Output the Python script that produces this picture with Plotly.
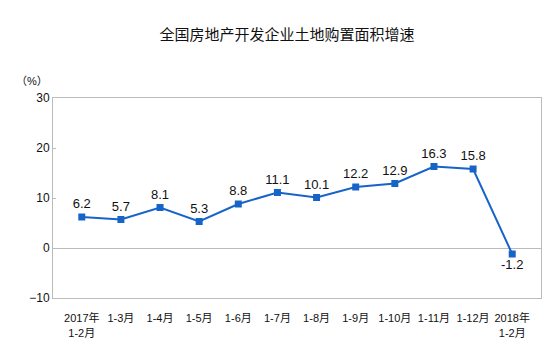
import plotly.graph_objects as go

categories = ["2017年<br>1-2月", "1-3月", "1-4月", "1-5月", "1-6月", "1-7月",
              "1-8月", "1-9月", "1-10月", "1-11月", "1-12月", "2018年<br>1-2月"]
values = [6.2, 5.7, 8.1, 5.3, 8.8, 11.1, 10.1, 12.2, 12.9, 16.3, 15.8, -1.2]
label_text = ["6.2", "5.7", "8.1", "5.3", "8.8", "11.1", "10.1", "12.2", "12.9", "16.3", "15.8", "-1.2"]
label_pos = ["top center"] * 11 + ["bottom center"]
y_ticks = [-10, 0, 10, 20, 30]

FONT = "Liberation Sans, Noto Sans CJK SC, sans-serif"
BLUE = "#1764C8"

fig = go.Figure()
fig.add_trace(go.Scatter(
    x=categories, y=values, mode="lines+markers+text",
    line=dict(color=BLUE, width=2),
    marker=dict(symbol="square", size=7, color=BLUE),
    text=label_text, textposition=label_pos,
    textfont=dict(family=FONT, size=13, color="#111111"),
    cliponaxis=False, showlegend=False,
))

fig.update_layout(
    width=550, height=345,
    margin=dict(l=53, r=9, t=98, b=47),
    paper_bgcolor="white", plot_bgcolor="white",
    font=dict(family=FONT, size=11, color="#111111"),
    title=dict(text="全国房地产开发企业土地购置面积增速", x=0.522, xanchor="center",
               y=0.9, yanchor="middle",
               font=dict(family="Noto Sans CJK SC, sans-serif", size=15, color="#111111")),
    xaxis=dict(type="category", showline=True, linecolor="#BBBBBB", linewidth=1,
               mirror=True, showgrid=False, ticks="", tickangle=0, ticklabelstandoff=10,
               automargin=False,
               tickfont=dict(family=FONT + ", Noto Sans CJK SC", size=11)),
    yaxis=dict(range=[-10, 30], tickvals=y_ticks, showline=True, linecolor="#BBBBBB",
               linewidth=1, mirror=True, showgrid=False, zeroline=True, automargin=False,
               zerolinecolor="#BBBBBB", zerolinewidth=1, ticks="inside", ticklen=3,
               tickcolor="#BBBBBB", tickfont=dict(family=FONT, size=12)),
)
fig.add_annotation(text="（%）", xref="paper", yref="paper", x=-0.08, y=1.125,
                   showarrow=False, font=dict(family=FONT, size=11, color="#111111"))

fig.write_html("out.html")
